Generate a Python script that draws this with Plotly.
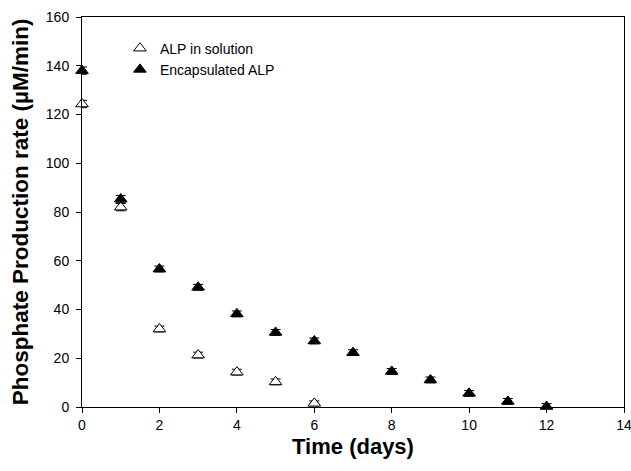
import plotly.graph_objects as go

days_sol = [0, 1, 2, 3, 4, 5, 6]
rate_sol = [124.3, 82, 32, 21.3, 14.3, 10.3, 1.5]
err_sol = [1.5, 1.5, 1.2, 1.2, 1.2, 1.2, 1.0]

days_enc = [0, 1, 2, 3, 4, 5, 6, 7, 8, 9, 10, 11, 12]
rate_enc = [138, 85.3, 56.6, 49.1, 38.2, 30.6, 27.1, 22.3, 14.6, 11.1, 5.6, 2.3, 0.2]
err_enc = [1.5, 1.5, 1.2, 1.2, 1.2, 1.2, 1.2, 1.2, 1.2, 1.2, 1.2, 1.2, 1.2]

font = "Liberation Sans, Arial, sans-serif"

fig = go.Figure()
fig.add_trace(go.Scatter(
    x=days_sol, y=rate_sol, mode="markers", name="ALP in solution",
    marker=dict(symbol="triangle-up", size=11, color="white", line=dict(color="black", width=1)),
    error_y=dict(type="data", array=err_sol, color="black", thickness=1, width=5),
    cliponaxis=False,
))
fig.add_trace(go.Scatter(
    x=days_enc, y=rate_enc, mode="markers", name="Encapsulated ALP",
    marker=dict(symbol="triangle-up", size=11, color="black", line=dict(color="black", width=1)),
    error_y=dict(type="data", array=err_enc, color="black", thickness=1, width=5),
    cliponaxis=False,
))

fig.update_layout(
    width=631, height=471,
    margin=dict(l=82, r=7, t=17, b=64, autoexpand=False),
    paper_bgcolor="white", plot_bgcolor="white",
    font=dict(family=font, color="black", size=14),
    showlegend=True,
    legend=dict(x=0.07, y=0.96, xanchor="left", yanchor="top",
                bgcolor="rgba(0,0,0,0)", font=dict(size=14), itemwidth=30,
                tracegroupgap=0),
)
fig.update_xaxes(
    range=[0, 14], dtick=2, tick0=0, showgrid=False, zeroline=False,
    showline=True, linecolor="black", linewidth=1, mirror=True,
    ticks="outside", ticklen=5, tickcolor="black", automargin=False,
    ticklabeloverflow="allow",
    title=dict(text="<b>Time (days)</b>", font=dict(size=22), standoff=6),
)
fig.update_yaxes(
    range=[0, 160], dtick=20, tick0=0, showgrid=False, zeroline=False,
    showline=True, linecolor="black", linewidth=1, mirror=True,
    ticks="outside", ticklen=5, tickcolor="black", automargin=False,
    ticklabeloverflow="allow", ticklabelstandoff=4,
    title=dict(text="<b>Phosphate Production rate (µM/min)</b>", font=dict(size=22.5), standoff=10),
)

fig.write_html("out.html", config={"displayModeBar": False},
               post_script="document.body.style.margin='0';document.body.style.overflow='hidden';")
